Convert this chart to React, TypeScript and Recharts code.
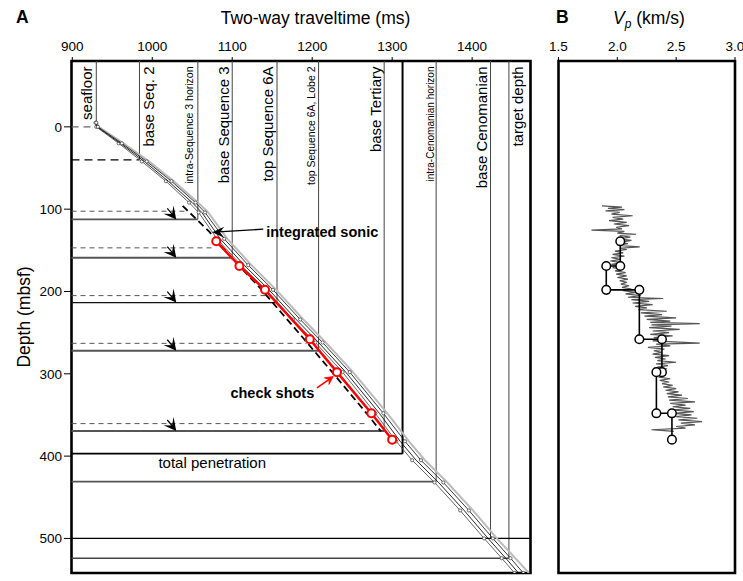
import React from 'react';
import {
  ComposedChart,
  Scatter,
  XAxis,
  YAxis,
  ReferenceLine,
  ReferenceDot,
  ReferenceArea,
} from 'recharts';

const FONT = '"Liberation Sans", Arial, Helvetica, sans-serif';

// axes
const twtTicks = [900, 1000, 1100, 1200, 1300, 1400];
const vpTicks = [1.5, 2.0, 2.5, 3.0];
const depthTicks = [0, 100, 200, 300, 400, 500];

// seismic horizons: two-way time (ms) and tied depth (mbsf)
const horizonNames = [
  'seafloor',
  'base Seq. 2',
  'intra-Sequence 3 horizon',
  'base Sequence 3',
  'top Sequence 6A',
  'top Sequence 6A, Lobe 2',
  'base Tertiary',
  'intra-Cenomanian horizon',
  'base Cenomanian',
  'target depth',
];
const horizonTwt = [930, 984, 1057, 1100, 1156, 1208, 1290, 1355, 1423, 1446];
const horizonDepth = [-5, 40, 112.5, 159, 213.5, 272, 369.5, 431, 500, 524];

// depths predicted before the check shots (dashed) and where they were moved to
const predictedDepth = [102.5, 147, 205, 263, 360.5];
const predictedTwt = [1044, 1076, 1145, 1193, 1270];
const shiftedDepth = [112.5, 159, 213.5, 272, 369.5];
const shiftArrowTwt = [1030, 1030, 1030, 1030, 1030];

const penetrationTwt = 1313;
const penetrationDepth = 397;

// check shots
const checkShotTwt = [1080, 1109, 1141, 1197, 1231, 1274, 1300];
const checkShotDepth = [139, 169, 198, 258, 298, 348, 380];
const intervalVp = [2.025, 1.906, 2.187, 2.379, 2.332, 2.464];

// integrated sonic time-depth
const sonicTwt = [1038, 1071, 1100, 1135, 1190, 1225, 1268, 1286];
const sonicTdDepth = [96, 127, 160, 196, 258, 298, 348, 370];

// time-depth curves
const curveDepth = [-5, 0, 20, 42, 66, 92, 104, 136, 168, 198, 234, 262, 298, 348, 382, 405, 432, 466, 500, 524, 542];
const curveTwtA = [929, 931, 960, 990, 1020, 1050, 1062, 1085, 1115, 1146, 1180, 1208, 1242, 1284, 1310, 1330, 1358, 1390, 1420, 1442, 1458];
const curveTwtB = [930, 932, 962, 993, 1024, 1054, 1066, 1090, 1120, 1151, 1185, 1213, 1247, 1289, 1316, 1336, 1364, 1396, 1426, 1448, 1464];
const curveTwtC = [929, 930, 958, 987, 1017, 1046, 1058, 1081, 1111, 1142, 1176, 1204, 1238, 1279, 1305, 1325, 1353, 1385, 1415, 1437, 1453];
const curveTwtD = [931, 933, 964, 996, 1027, 1057, 1070, 1094, 1124, 1155, 1189, 1217, 1251, 1294, 1321, 1341, 1369, 1401, 1431, 1454, 1471];

// sonic log (km/s)
const sonicDepth = [
  96, 97.5, 99, 100.5, 102, 104, 106, 108, 110, 112,
  114, 116, 118, 120, 122, 124, 125.5, 127, 129, 130.5,
  132, 134, 136, 138, 140, 142, 144, 145.7, 147.5, 149,
  151, 153, 155, 157, 159, 161, 163, 165, 167, 169,
  171, 173, 175, 177, 179, 181, 183, 185, 187, 189,
  191, 193, 195, 197, 199, 201, 203, 205, 207, 208.5,
  210, 212, 214, 216, 218, 220, 222, 224, 226, 228,
  230, 232, 234, 236, 237.5, 239, 240.5, 242, 244, 246,
  248, 250, 252, 254, 256, 258, 260, 262.8, 264, 266,
  268, 270, 272, 274, 276, 278, 280, 282, 284, 286,
  288, 290, 292, 294, 296, 298, 300, 302, 304, 306,
  308, 310, 312, 314, 316, 318, 320, 322, 324, 326,
  328, 330, 332, 334, 336, 338, 340, 342, 344, 346,
  348, 350, 352, 354, 356, 358, 360, 362, 364, 366,
  368, 369, 370,
];
const sonicVp = [
  1.87, 2.04, 1.92, 2.06, 1.9, 2.02, 1.95, 2.13, 1.96, 2.05,
  1.93, 2.08, 1.97, 2.1, 1.99, 2.04, 1.78, 2.06, 2.0, 2.16,
  2.02, 2.11, 2.01, 2.12, 2.03, 2.09, 2.0, 2.19, 2.02, 2.08,
  1.98, 2.05, 1.96, 2.06, 1.95, 2.03, 1.94, 2.04, 1.95, 2.02,
  1.96, 2.05, 1.98, 2.07, 1.99, 2.08, 2.0, 2.09, 2.02, 2.08,
  2.03, 2.1, 2.04, 2.12, 2.05, 2.16, 2.07, 2.2, 2.09, 2.39,
  2.12, 2.27, 2.13, 2.3, 2.15, 2.25, 2.18, 2.42, 2.2, 2.38,
  2.23, 2.5, 2.25, 2.45, 2.28, 2.7, 2.29, 2.46, 2.27, 2.53,
  2.3, 2.44, 2.28, 2.47, 2.31, 2.42, 2.3, 2.7, 2.33, 2.45,
  2.26, 2.4, 2.31, 2.38, 2.3, 2.44, 2.32, 2.41, 2.34, 2.5,
  2.33, 2.43, 2.34, 2.42, 2.35, 2.4, 2.33, 2.41, 2.35, 2.45,
  2.36, 2.44, 2.38, 2.47, 2.39, 2.5, 2.41, 2.52, 2.42, 2.55,
  2.43, 2.6, 2.44, 2.66, 2.45, 2.58, 2.47, 2.62, 2.46, 2.65,
  2.48, 2.63, 2.5, 2.68, 2.52, 2.72, 2.54, 2.66, 2.5, 2.58,
  2.29, 2.4, 2.48,
];

const TWT_DOMAIN = [899, 1473];
const DEPTH_DOMAIN = [-80, 542];
const VP_DOMAIN = [1.5, 3.0];

// label placement / style (not data)
const labelDx = [-9.3, 8.7, -8.5, -9, -9.5, -7.5, -8.5, -6, -9, 9];
const labelSize = [15, 15, 10.5, 15, 15, 10.5, 15, 10, 15, 15];

const td = (t: number[], d: number[]) => t.map((x, i) => ({ t: x, d: d[i] }));
const vd = (v: number[], d: number[]) => v.map((x, i) => ({ v: x, d: d[i] }));

const stepPoints: { v: number; d: number }[] = [];
intervalVp.forEach((v, i) => {
  stepPoints.push({ v, d: checkShotDepth[i] });
  stepPoints.push({ v, d: checkShotDepth[i + 1] });
});

const noDot = () => <g />;
const tinyDot = (p: any) => <circle cx={p.cx} cy={p.cy} r={1.6} fill="#fff" stroke="#333" strokeWidth={0.7} />;
const redDot = (p: any) => <circle cx={p.cx} cy={p.cy} r={4} fill="#fff" stroke="#f00" strokeWidth={2} />;
const openDot = (p: any) => <circle cx={p.cx} cy={p.cy} r={4.3} fill="#fff" stroke="#000" strokeWidth={1.5} />;

const shiftArrow = (p: any) => {
  const { cx, cy } = p;
  return (
    <g>
      <line x1={cx - 9} y1={cy - 11} x2={cx - 3} y2={cy - 4} stroke="#000" strokeWidth={1.2} />
      <path d={`M${cx},${cy} L${cx - 12.7},${cy - 5.7} L${cx - 4.2},${cy - 5.4} L${cx - 2.7},${cy - 14} Z`} fill="#000" />
    </g>
  );
};

const horizonLabel = (i: number) => (p: any) => {
  const x = p.cx + labelDx[i];
  const y = p.cy + 5.5;
  return (
    <text
      x={x}
      y={y}
      transform={`rotate(-90 ${x} ${y})`}
      textAnchor="end"
      dominantBaseline="central"
      fontSize={labelSize[i]}
      fontFamily={FONT}
      fill="#000"
    >
      {horizonNames[i]}
    </text>
  );
};

const sonicNote = (p: any) => {
  const { cx, cy } = p;
  return (
    <g>
      <line x1={cx + 6} y1={cy - 0.4} x2={cx + 51} y2={cy - 3} stroke="#000" strokeWidth={1.3} />
      <path d={`M${cx},${cy} L${cx + 12},${cy - 5.5} L${cx + 7.5},${cy} L${cx + 12},${cy + 5.5} Z`} fill="#000" />
      <text x={cx + 54} y={cy} dominantBaseline="central" fontSize={14.5} fontWeight="bold" fontFamily={FONT} fill="#000">
        integrated sonic
      </text>
    </g>
  );
};

const checkNote = (p: any) => {
  const { cx, cy } = p;
  const tx = cx - 3.7;
  const ty = cy + 4.4;
  return (
    <g>
      <line x1={cx - 20} y1={cy + 15.7} x2={tx - 3} y2={ty + 2} stroke="#f00" strokeWidth={1.6} />
      <path
        d={`M${tx},${ty} L${tx - 4.3},${ty + 7.9} L${tx - 4.1},${ty + 2.9} L${tx - 8.9},${ty + 1.3} Z`}
        fill="#f00"
        stroke="#f00"
        strokeWidth={0.8}
      />
      <text x={cx - 22.7} y={cy + 20.4} textAnchor="end" dominantBaseline="central" fontSize={14.5} fontWeight="bold" fontFamily={FONT} fill="#000">
        check shots
      </text>
    </g>
  );
};

const penetrationNote = (p: any) => (
  <text x={p.cx} y={p.cy} textAnchor="middle" dominantBaseline="central" fontSize={15} fontFamily={FONT} fill="#000">
    total penetration
  </text>
);

const tickFont = { fontSize: 13.5, fill: '#000', fontFamily: FONT };

function PanelA() {
  return (
    <ComposedChart width={545} height={581} margin={{ top: 31, right: 6.5, bottom: 8, left: 0 }}>
      <XAxis
        type="number"
        dataKey="t"
        orientation="top"
        domain={TWT_DOMAIN}
        allowDataOverflow
        ticks={twtTicks}
        interval={0}
        height={30}
        tickSize={4}
        tickMargin={6}
        axisLine={false}
        tickLine={{ stroke: '#000' }}
        tick={tickFont}
      />
      <YAxis
        type="number"
        dataKey="d"
        domain={DEPTH_DOMAIN}
        allowDataOverflow
        reversed
        ticks={depthTicks}
        interval={0}
        width={71.5}
        tickSize={7.5}
        tickMargin={2}
        axisLine={false}
        tickLine={{ stroke: '#000' }}
        tick={tickFont}
      />
      <YAxis
        yAxisId="right"
        orientation="right"
        type="number"
        domain={DEPTH_DOMAIN}
        allowDataOverflow
        reversed
        ticks={depthTicks}
        interval={0}
        width={8}
        tickSize={7}
        axisLine={false}
        tickLine={{ stroke: '#000' }}
        tick={false}
      />

      {/* seafloor at 0 */}
      <ReferenceLine segment={[{ x: 899, y: 0 }, { x: horizonTwt[0], y: 0 }]} stroke="#666" strokeWidth={1.3} strokeDasharray="7 5" />

      {/* horizon verticals */}
      {horizonTwt.map((t, i) => (
        <ReferenceLine key={`v${i}`} segment={[{ x: t, y: -80 }, { x: t, y: horizonDepth[i] }]} stroke="#444" strokeWidth={1} />
      ))}
      <ReferenceLine segment={[{ x: penetrationTwt, y: -80 }, { x: penetrationTwt, y: penetrationDepth }]} stroke="#000" strokeWidth={2} />

      {/* horizon depth lines */}
      <ReferenceLine segment={[{ x: 899, y: horizonDepth[1] }, { x: horizonTwt[1], y: horizonDepth[1] }]} stroke="#000" strokeWidth={1.3} strokeDasharray="8 5" />
      {[2, 3, 5, 6, 7].map((i) => (
        <ReferenceLine key={`h${i}`} segment={[{ x: 899, y: horizonDepth[i] }, { x: horizonTwt[i], y: horizonDepth[i] }]} stroke="#555" strokeWidth={1.8} />
      ))}
      <ReferenceLine segment={[{ x: 899, y: horizonDepth[4] }, { x: horizonTwt[4], y: horizonDepth[4] }]} stroke="#111" strokeWidth={1.2} />
      <ReferenceLine segment={[{ x: 899, y: horizonDepth[8] }, { x: 1473, y: horizonDepth[8] }]} stroke="#000" strokeWidth={1.2} />
      <ReferenceLine segment={[{ x: 899, y: horizonDepth[9] }, { x: horizonTwt[9], y: horizonDepth[9] }]} stroke="#444" strokeWidth={1.6} />
      <ReferenceLine segment={[{ x: 899, y: penetrationDepth }, { x: penetrationTwt, y: penetrationDepth }]} stroke="#000" strokeWidth={1.8} />

      {/* predicted depths */}
      {predictedDepth.map((d, i) => (
        <ReferenceLine key={`p${i}`} segment={[{ x: 899, y: d }, { x: predictedTwt[i], y: d }]} stroke="#555" strokeWidth={1} strokeDasharray="5 4" />
      ))}

      {/* time-depth curves */}
      <Scatter data={td(curveTwtD, curveDepth)} line={{ stroke: '#bbb', strokeWidth: 2 }} shape={noDot} isAnimationActive={false} />
      <Scatter data={td(curveTwtC, curveDepth)} line={{ stroke: '#555', strokeWidth: 0.9 }} shape={tinyDot} isAnimationActive={false} />
      <Scatter data={td(curveTwtA, curveDepth)} line={{ stroke: '#111', strokeWidth: 0.9 }} shape={noDot} isAnimationActive={false} />
      <Scatter data={td(curveTwtB, curveDepth)} line={{ stroke: '#222', strokeWidth: 0.9 }} shape={tinyDot} isAnimationActive={false} />

      {/* integrated sonic */}
      <Scatter data={td(sonicTwt, sonicTdDepth)} line={{ stroke: '#000', strokeWidth: 1.8, strokeDasharray: '7 4' }} shape={noDot} isAnimationActive={false} />

      {/* check shots */}
      <Scatter data={td(checkShotTwt, checkShotDepth)} line={{ stroke: '#f00', strokeWidth: 2.5 }} shape={redDot} isAnimationActive={false} />

      {/* shift arrows */}
      <Scatter data={td(shiftArrowTwt, shiftedDepth)} shape={shiftArrow} isAnimationActive={false} />

      {horizonNames.map((_, i) => (
        <ReferenceDot key={`l${i}`} x={horizonTwt[i]} y={-80} ifOverflow="visible" shape={horizonLabel(i)} />
      ))}
      <ReferenceDot x={1075} y={128} ifOverflow="visible" shape={sonicNote} />
      <ReferenceDot x={checkShotTwt[4]} y={checkShotDepth[4]} ifOverflow="visible" shape={checkNote} />
      <ReferenceDot x={1075} y={408} ifOverflow="visible" shape={penetrationNote} />

      <ReferenceArea x1={899} x2={1473} y1={-80} y2={542} fill="none" stroke="#000" strokeWidth={2.6} ifOverflow="visible" />
    </ComposedChart>
  );
}

function PanelB() {
  return (
    <ComposedChart width={203} height={581} margin={{ top: 31, right: 8, bottom: 8, left: 0 }}>
      <XAxis
        type="number"
        dataKey="v"
        orientation="top"
        domain={VP_DOMAIN}
        allowDataOverflow
        ticks={vpTicks}
        interval={0}
        height={30}
        tickSize={4}
        tickMargin={6}
        axisLine={false}
        tickLine={{ stroke: '#000' }}
        tick={tickFont}
        tickFormatter={(v: number) => v.toFixed(1)}
      />
      <YAxis
        type="number"
        dataKey="d"
        domain={DEPTH_DOMAIN}
        allowDataOverflow
        reversed
        ticks={depthTicks}
        interval={0}
        width={18.5}
        tickSize={6}
        axisLine={false}
        tickLine={{ stroke: '#000' }}
        tick={false}
      />
      <Scatter data={vd(sonicVp, sonicDepth)} line={{ stroke: '#555', strokeWidth: 1.2 }} shape={noDot} isAnimationActive={false} />
      <Scatter data={stepPoints} line={{ stroke: '#000', strokeWidth: 1.6 }} shape={openDot} isAnimationActive={false} />
      <ReferenceArea x1={1.5} x2={3.0} y1={-80} y2={542} fill="none" stroke="#000" strokeWidth={2.6} ifOverflow="visible" />
    </ComposedChart>
  );
}

export default function App() {
  return (
    <div style={{ position: 'absolute', left: 0, top: 0, width: 743, height: 581, background: '#fff', fontFamily: FONT, color: '#000' }}>
      <div style={{ position: 'absolute', left: 0, top: 0 }}>
        <PanelA />
      </div>
      <div style={{ position: 'absolute', left: 540, top: 0 }}>
        <PanelB />
      </div>
      <div style={{ position: 'absolute', left: 16, top: 8.8, fontSize: 17.5, fontWeight: 'bold', lineHeight: 1 }}>A</div>
      <div style={{ position: 'absolute', left: 556, top: 8.8, fontSize: 17.5, fontWeight: 'bold', lineHeight: 1 }}>B</div>
      <div style={{ position: 'absolute', left: 115.5, width: 400, top: 10.4, fontSize: 17.5, lineHeight: 1, textAlign: 'center' }}>
        Two-way traveltime (ms)
      </div>
      <div style={{ position: 'absolute', left: 613, top: 10, fontSize: 17.5, lineHeight: 1, whiteSpace: 'nowrap' }}>
        <i>V</i>
        <sub style={{ fontSize: 12, fontStyle: 'italic', verticalAlign: '-4px', lineHeight: 0 }}>p</sub> (km/s)
      </div>
      <div
        style={{
          position: 'absolute',
          left: 24.5,
          top: 317,
          fontSize: 17.5,
          lineHeight: 1,
          whiteSpace: 'nowrap',
          transform: 'translate(-50%, -50%) rotate(-90deg)',
        }}
      >
        Depth (mbsf)
      </div>
    </div>
  );
}
